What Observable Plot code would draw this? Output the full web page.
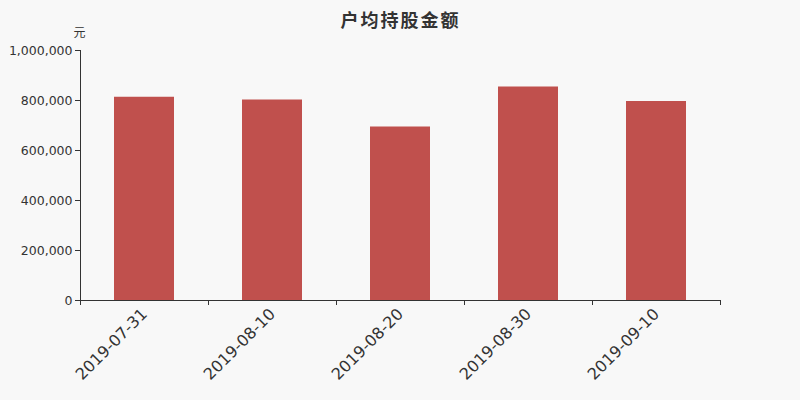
<!DOCTYPE html>
<html>
<head>
<meta charset="utf-8">
<script src="https://cdn.jsdelivr.net/npm/d3@7"></script>
<script src="https://cdn.jsdelivr.net/npm/@observablehq/plot@0.6"></script>
<style>
  html, body { margin: 0; padding: 0; background: #f8f8f8; }
  #chart svg { display: block; }
</style>
</head>
<body>
<div id="chart"></div>
<script>
const title = "户均持股金额";
const unit = "元";
const dates = ["2019-07-31", "2019-08-10", "2019-08-20", "2019-08-30", "2019-09-10"];
const values = [813000, 802000, 694000, 854000, 796000];
const yTicks = [0, 200000, 400000, 600000, 800000, 1000000];

const data = dates.map((d, i) => ({date: d, value: values[i]}));

const W = 800, H = 400, mL = 80, mR = 80, mT = 50, mB = 100;
const halfStep = (W - mL - mR) / dates.length / 2;
const ink = "#333";

const chart = Plot.plot({
  width: W,
  height: H,
  marginLeft: mL,
  marginRight: mR,
  marginTop: mT,
  marginBottom: mB,
  style: {background: "#f8f8f8", fontFamily: "DejaVu Sans, sans-serif", color: ink},
  x: {domain: dates, paddingInner: 0.53125, paddingOuter: 0.265625, label: null},
  y: {domain: [0, 1000000], label: null},
  marks: [
    Plot.barY(data, {x: "date", y: "value", fill: "#c0504d"}),
    Plot.frame({anchor: "left", stroke: ink}),
    Plot.frame({anchor: "bottom", stroke: ink}),
    Plot.axisY({ticks: yTicks, tickFormat: d3.format(","), tickSize: 5, tickPadding: 3, fontSize: 12.5, fill: ink, stroke: ink, label: null}),
    Plot.axisX({text: null, tickSize: 5, dx: -halfStep, stroke: ink, label: null}),
    Plot.axisX({ticks: [dates[dates.length - 1]], text: null, tickSize: 5, dx: halfStep, stroke: ink, label: null}),
    Plot.axisX({tickSize: 0, tickPadding: 11, tickRotate: -45, fontSize: 16, fill: ink, label: null}),
    Plot.text([unit], {frameAnchor: "top-left", dx: -1, dy: -22, fontSize: 12, fill: ink, textAnchor: "middle", fontFamily: "Noto Sans CJK SC"}),
    Plot.text([title], {frameAnchor: "top", dy: -36, fontSize: 18, fontWeight: "bold", fill: ink, textAnchor: "middle", fontFamily: "Noto Sans CJK SC"})
  ]
});
chart.querySelectorAll("text").forEach(t => {
  if (t.textContent === title) t.style.letterSpacing = "2px";
});
document.getElementById("chart").appendChild(chart);
</script>
</body>
</html>
